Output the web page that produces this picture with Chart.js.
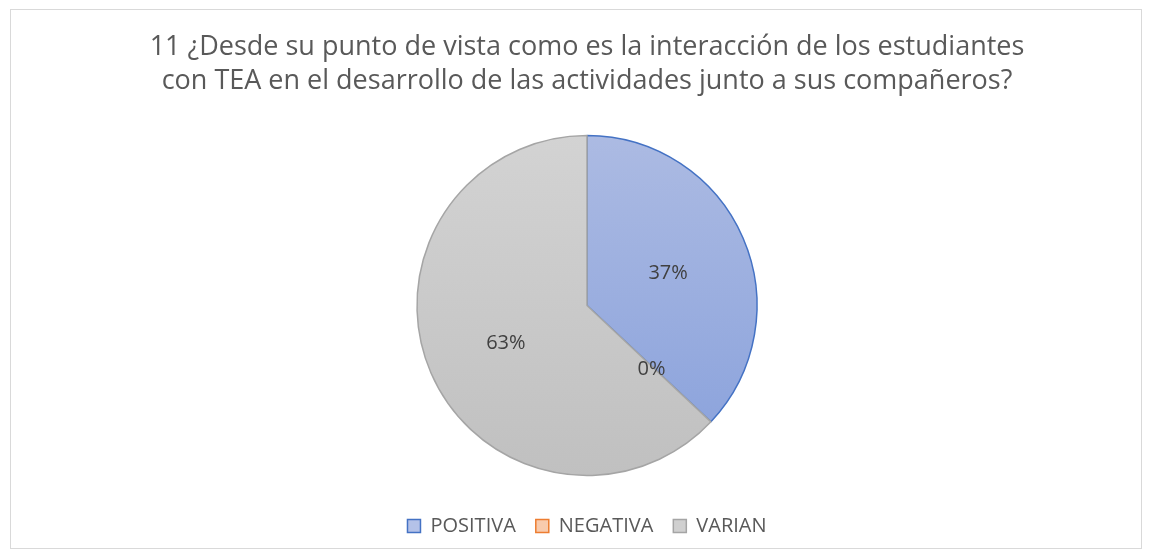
<!DOCTYPE html>
<html>
<head>
<meta charset="utf-8">
<script src="https://cdn.jsdelivr.net/npm/chart.js@4.4.1/dist/chart.umd.min.js"></script>
<style>
    body { margin: 0; background: #ffffff; }
    #wrap {
        position: absolute;
        left: 10px;
        top: 9px;
        width: 1130px;
        height: 538px;
        border: 1px solid #d9d9d9;
        background: #ffffff;
    }
</style>
</head>
<body>
<div id="wrap"><canvas id="pieChart"></canvas></div>
<script>
const titleLines = [
    '11 ¿Desde su punto de vista como es la interacción de los estudiantes',
    'con TEA en el desarrollo de las actividades junto a sus compañeros?'
];
const categories = ['POSITIVA', 'NEGATIVA', 'VARIAN'];
const percentages = [37, 0, 63];

const edgeColors = ['#4472c4', '#ed7d31', '#a5a5a5'];
const legendFills = ['#b4c2e8', '#f8cbad', '#d0d0d0'];
const gradientStops = [
    ['#aebce3', '#869fdb'],
    ['#f8cbad', '#f4b183'],
    ['#d4d4d4', '#bfbfbf']
];
const fontFamily = '"Open Sans", sans-serif';

function sliceFill(context) {
    const chart = context.chart;
    const area = chart.chartArea;
    if (!area) return gradientStops[context.dataIndex][0];
    const g = chart.ctx.createLinearGradient(0, area.top, 0, area.bottom);
    g.addColorStop(0, gradientStops[context.dataIndex][0]);
    g.addColorStop(1, gradientStops[context.dataIndex][1]);
    return g;
}

// Draw percent labels inside the slices
const percentLabels = {
    id: 'percentLabels',
    afterDatasetsDraw(chart) {
        const ctx = chart.ctx;
        const meta = chart.getDatasetMeta(0);
        ctx.save();
        ctx.font = '20px ' + fontFamily;
        ctx.fillStyle = '#404040';
        ctx.textAlign = 'center';
        ctx.textBaseline = 'middle';
        meta.data.forEach((arc, i) => {
            const p = arc.getProps(['x', 'y', 'startAngle', 'endAngle', 'outerRadius'], true);
            const mid = (p.startAngle + p.endAngle) / 2;
            const r = p.outerRadius * 0.52;
            ctx.fillText(percentages[i] + '%', p.x + Math.cos(mid) * r, p.y + Math.sin(mid) * r + 3);
        });
        ctx.restore();
    }
};

const ctx = document.getElementById('pieChart').getContext('2d');
new Chart(ctx, {
    type: 'pie',
    data: {
        labels: categories,
        datasets: [{
            data: percentages,
            backgroundColor: sliceFill,
            borderColor: edgeColors,
            borderWidth: [1.5, 0, 1.5],
            radius: 170
        }]
    },
    options: {
        responsive: true,
        maintainAspectRatio: false,
        animation: false,
        layout: {
            padding: { left: 22, top: 0, bottom: 2 }
        },
        plugins: {
            title: {
                display: true,
                text: titleLines,
                color: '#595959',
                font: { family: fontFamily, size: 27, weight: 'normal', lineHeight: 1.24 },
                padding: { top: 21, bottom: 17 }
            },
            legend: {
                position: 'bottom',
                labels: {
                    color: '#595959',
                    font: { family: fontFamily, size: 20 },
                    boxWidth: 13,
                    boxHeight: 13,
                    padding: 20,
                    generateLabels: chart => categories.map((c, i) => ({
                        text: c,
                        fillStyle: legendFills[i],
                        strokeStyle: edgeColors[i],
                        lineWidth: 1.5,
                        fontColor: '#595959',
                        index: i,
                        hidden: false
                    }))
                }
            },
            tooltip: { enabled: false }
        }
    },
    plugins: [percentLabels]
});
</script>
</body>
</html>
